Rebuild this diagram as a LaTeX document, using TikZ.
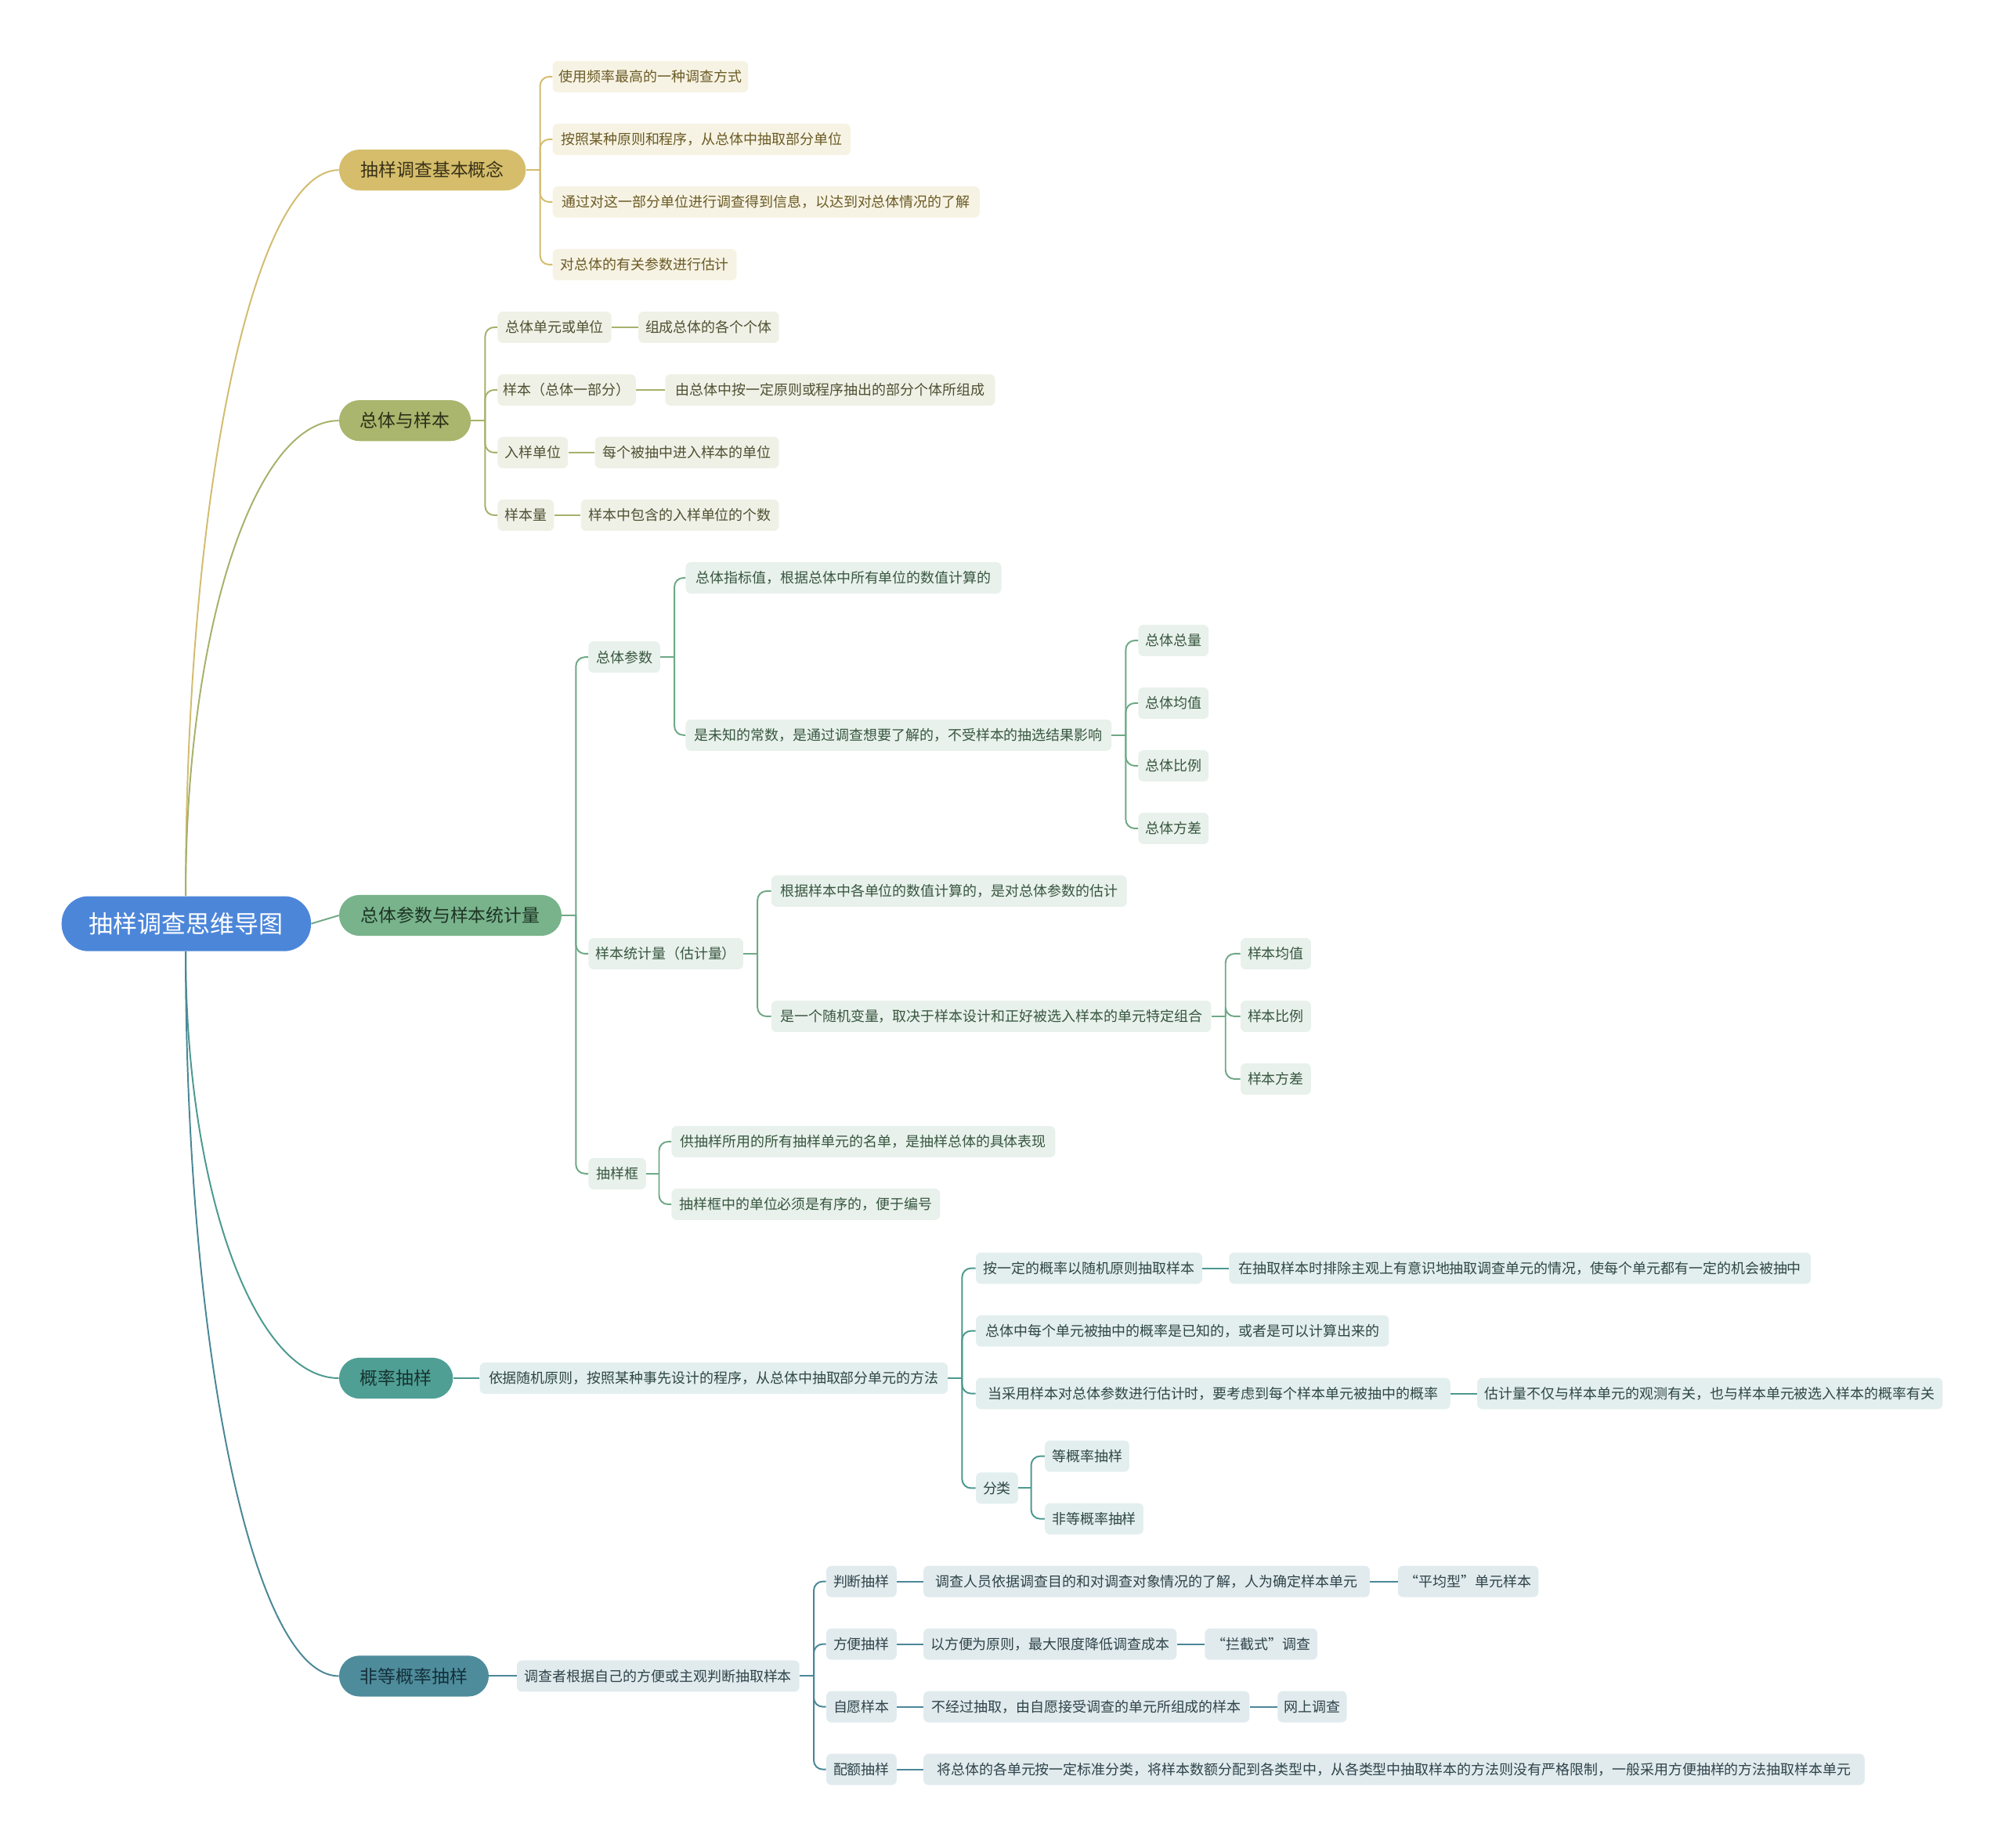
\documentclass[tikz,border=0pt]{standalone}
\usepackage{fontspec}
\newfontfamily\cjk{Noto Sans CJK SC}
\usetikzlibrary{calc}
\definecolor{rootF}{HTML}{4C86D9}
\definecolor{goldL}{HTML}{D3BC6F}\definecolor{goldF}{HTML}{D5BD6B}\definecolor{goldB}{HTML}{F7F3E4}\definecolor{goldT}{HTML}{6A5A24}\definecolor{goldP}{HTML}{3A3218}
\definecolor{oliL}{HTML}{A6B16A}\definecolor{oliF}{HTML}{AAB56D}\definecolor{oliB}{HTML}{F0F1E6}\definecolor{oliT}{HTML}{4E5032}\definecolor{oliP}{HTML}{2B2E17}
\definecolor{grnL}{HTML}{6FA886}\definecolor{grnF}{HTML}{78B38B}\definecolor{grnB}{HTML}{E8F1EB}\definecolor{grnT}{HTML}{37563F}\definecolor{grnP}{HTML}{1D3324}
\definecolor{tealL}{HTML}{4C998F}\definecolor{tealF}{HTML}{4F9F95}\definecolor{tealB}{HTML}{E3EFEE}\definecolor{tealT}{HTML}{2E4744}\definecolor{tealP}{HTML}{17332F}
\definecolor{bluL}{HTML}{4A8796}\definecolor{bluF}{HTML}{4E8C9C}\definecolor{bluB}{HTML}{E1EBEE}\definecolor{bluT}{HTML}{2E4349}\definecolor{bluP}{HTML}{14303A}
\newcommand\mnode[6]{\node[#1, minimum width=#5pt, anchor=west] (#2) at (#3,#4) {#6};}
\begin{document}
\begin{tikzpicture}[x=1pt,y=-1pt,
  rootnode/.style={rounded corners=21pt, fill=rootF, text=white, font=\cjk\fontsize{19}{22}\selectfont, minimum height=43pt, inner sep=0pt},
  topic/.style={rounded corners=16pt, minimum height=32pt, font=\cjk\fontsize{14}{16}\selectfont, inner sep=0pt},
  sub/.style={rounded corners=4pt, minimum height=24.5pt, font=\cjk\fontsize{11}{13}\selectfont, inner xsep=3pt, inner ysep=0pt},
  gP/.style={topic, fill=goldF, text=goldP}, gB/.style={sub, fill=goldB, text=goldT}, gl/.style={draw=goldL, line width=1.2pt},
  oP/.style={topic, fill=oliF, text=oliP}, oB/.style={sub, fill=oliB, text=oliT}, ol/.style={draw=oliL, line width=1.2pt},
  nP/.style={topic, fill=grnF, text=grnP}, nB/.style={sub, fill=grnB, text=grnT}, nl/.style={draw=grnL, line width=1.2pt},
  tP/.style={topic, fill=tealF, text=tealP}, tB/.style={sub, fill=tealB, text=tealT}, tl/.style={draw=tealL, line width=1.2pt},
  bP/.style={topic, fill=bluF, text=bluP}, bB/.style={sub, fill=bluB, text=bluT}, bl/.style={draw=bluL, line width=1.2pt},
  br/.style={rounded corners=7pt}
]
\useasboundingbox (0,0) rectangle (1568,1445);
% root
\mnode{rootnode}{R}{48}{722.5}{195}{抽样调查思维导图}
% level 1
\mnode{gP}{L1}{265}{133}{146}{抽样调查基本概念}
\mnode{oP}{L2}{265}{329}{103}{总体与样本}
\mnode{nP}{L3}{265}{716}{174}{总体参数与样本统计量}
\mnode{tP}{L4}{265}{1078}{89}{概率抽样}
\mnode{bP}{L5}{265}{1311}{117}{非等概率抽样}
% group 1
\mnode{gB}{a1}{432}{60}{153}{使用频率最高的一种调查方式}
\mnode{gB}{a2}{432}{109}{233}{按照某种原则和程序，从总体中抽取部分单位}
\mnode{gB}{a3}{432}{158}{334}{通过对这一部分单位进行调查得到信息，以达到对总体情况的了解}
\mnode{gB}{a4}{432}{207}{144}{对总体的有关参数进行估计}
% group 2
\mnode{oB}{b1}{389}{256}{89}{总体单元或单位}
\mnode{oB}{b1c}{499}{256}{110}{组成总体的各个个体}
\mnode{oB}{b2}{389}{305}{108}{样本（总体一部分）}
\mnode{oB}{b2c}{520}{305}{258}{由总体中按一定原则或程序抽出的部分个体所组成}
\mnode{oB}{b3}{389}{354}{55}{入样单位}
\mnode{oB}{b3c}{465}{354}{144}{每个被抽中进入样本的单位}
\mnode{oB}{b4}{389}{403}{44}{样本量}
\mnode{oB}{b4c}{454}{403}{155}{样本中包含的入样单位的个数}
% group 3
\mnode{nB}{c1}{460}{514}{56}{总体参数}
\mnode{nB}{c1a}{536}{452}{247}{总体指标值，根据总体中所有单位的数值计算的}
\mnode{nB}{c1b}{536}{575}{333}{是未知的常数，是通过调查想要了解的，不受样本的抽选结果影响}
\mnode{nB}{c1b1}{890}{501}{55}{总体总量}
\mnode{nB}{c1b2}{890}{550}{55}{总体均值}
\mnode{nB}{c1b3}{890}{599}{55}{总体比例}
\mnode{nB}{c1b4}{890}{648}{55}{总体方差}
\mnode{nB}{c2}{460}{746}{121}{样本统计量（估计量）}
\mnode{nB}{c2a}{603}{697}{278}{根据样本中各单位的数值计算的，是对总体参数的估计}
\mnode{nB}{c2b}{603}{795}{344}{是一个随机变量，取决于样本设计和正好被选入样本的单元特定组合}
\mnode{nB}{c2b1}{970}{746}{55}{样本均值}
\mnode{nB}{c2b2}{970}{795}{55}{样本比例}
\mnode{nB}{c2b3}{970}{844}{55}{样本方差}
\mnode{nB}{c3}{460}{918}{45}{抽样框}
\mnode{nB}{c3a}{525}{893}{300}{供抽样所用的所有抽样单元的名单，是抽样总体的具体表现}
\mnode{nB}{c3b}{525}{942}{210}{抽样框中的单位必须是有序的，便于编号}
% group 4
\mnode{tB}{d1}{375}{1078}{366}{依据随机原则，按照某种事先设计的程序，从总体中抽取部分单元的方法}
\mnode{tB}{d2}{763}{992}{177}{按一定的概率以随机原则抽取样本}
\mnode{tB}{d2c}{961}{992}{455}{在抽取样本时排除主观上有意识地抽取调查单元的情况，使每个单元都有一定的机会被抽中}
\mnode{tB}{d3}{763}{1041}{323}{总体中每个单元被抽中的概率是已知的，或者是可以计算出来的}
\mnode{tB}{d4}{763}{1090}{371}{当采用样本对总体参数进行估计时，要考虑到每个样本单元被抽中的概率}
\mnode{tB}{d4c}{1155}{1090}{364}{估计量不仅与样本单元的观测有关，也与样本单元被选入样本的概率有关}
\mnode{tB}{d5}{763}{1164}{33}{分类}
\mnode{tB}{d5a}{817}{1139}{66}{等概率抽样}
\mnode{tB}{d5b}{817}{1188}{77}{非等概率抽样}
% group 5
\mnode{bB}{e1}{404}{1311}{221}{调查者根据自己的方便或主观判断抽取样本}
\mnode{bB}{e2}{646}{1237}{55}{判断抽样}
\mnode{bB}{e2a}{722}{1237}{349}{调查人员依据调查目的和对调查对象情况的了解，人为确定样本单元}
\mnode{bB}{e2b}{1093}{1237}{110}{“平均型”单元样本}
\mnode{bB}{e3}{646}{1286}{55}{方便抽样}
\mnode{bB}{e3a}{722}{1286}{198}{以方便为原则，最大限度降低调查成本}
\mnode{bB}{e3b}{942}{1286}{88}{“拦截式”调查}
\mnode{bB}{e4}{646}{1335}{55}{自愿样本}
\mnode{bB}{e4a}{722}{1335}{255}{不经过抽取，由自愿接受调查的单元所组成的样本}
\mnode{bB}{e4b}{999}{1335}{54}{网上调查}
\mnode{bB}{e5}{646}{1384}{55}{配额抽样}
\mnode{bB}{e5a}{722}{1384}{736}{将总体的各单元按一定标准分类，将样本数额分配到各类型中，从各类型中抽取样本的方法则没有严格限制，一般采用方便抽样的方法抽取样本单元}
% root connectors
\coordinate (Rt) at ($(R.north)+(-0.5,0)$);
\coordinate (Rb) at ($(R.south)+(-0.5,0)$);
\draw[gl] (Rt) .. controls ($(Rt)!0.55!(Rt|-L1.west)$) and ($(L1.west)!0.56!(Rt|-L1.west)$) .. (L1.west);
\draw[ol] (Rt) .. controls ($(Rt)!0.55!(Rt|-L2.west)$) and ($(L2.west)!0.56!(Rt|-L2.west)$) .. (L2.west);
\draw[nl] (R.east) -- (L3.west);
\draw[tl] (Rb) .. controls ($(Rb)!0.55!(Rb|-L4.west)$) and ($(L4.west)!0.56!(Rb|-L4.west)$) .. (L4.west);
\draw[bl] (Rb) .. controls ($(Rb)!0.55!(Rb|-L5.west)$) and ($(L5.west)!0.56!(Rb|-L5.west)$) .. (L5.west);
% brackets
\coordinate (L1b) at ($(L1.east)+(11,0)$);
\draw[gl] (L1.east) -- (L1b);
\foreach \c in {a1,a2,a3,a4}{\draw[gl,br] (L1b) |- (\c.west);}
\coordinate (L2b) at ($(L2.east)+(11,0)$);
\draw[ol] (L2.east) -- (L2b);
\foreach \c in {b1,b2,b3,b4}{\draw[ol,br] (L2b) |- (\c.west);}
\foreach \c in {b1,b2,b3,b4}{\draw[ol] (\c.east) -- (\c c.west);}
\coordinate (L3b) at ($(L3.east)+(11,0)$);
\draw[nl] (L3.east) -- (L3b);
\foreach \c in {c1,c2,c3}{\draw[nl,br] (L3b) |- (\c.west);}
\coordinate (c1x) at ($(c1.east)+(11,0)$);
\draw[nl] (c1.east) -- (c1x);
\foreach \c in {c1a,c1b}{\draw[nl,br] (c1x) |- (\c.west);}
\coordinate (c1bx) at ($(c1b.east)+(11,0)$);
\draw[nl] (c1b.east) -- (c1bx);
\foreach \c in {c1b1,c1b2,c1b3,c1b4}{\draw[nl,br] (c1bx) |- (\c.west);}
\coordinate (c2x) at ($(c2.east)+(11,0)$);
\draw[nl] (c2.east) -- (c2x);
\foreach \c in {c2a,c2b}{\draw[nl,br] (c2x) |- (\c.west);}
\coordinate (c2bx) at ($(c2b.east)+(11,0)$);
\draw[nl] (c2b.east) -- (c2bx);
\foreach \c in {c2b1,c2b2,c2b3}{\draw[nl,br] (c2bx) |- (\c.west);}
\coordinate (c3x) at ($(c3.east)+(10,0)$);
\draw[nl] (c3.east) -- (c3x);
\foreach \c in {c3a,c3b}{\draw[nl,br] (c3x) |- (\c.west);}
\draw[tl] (L4.east) -- (d1.west);
\coordinate (d1x) at ($(d1.east)+(11,0)$);
\draw[tl] (d1.east) -- (d1x);
\foreach \c in {d2,d3,d4,d5}{\draw[tl,br] (d1x) |- (\c.west);}
\draw[tl] (d2.east) -- (d2c.west);
\draw[tl] (d4.east) -- (d4c.west);
\coordinate (d5x) at ($(d5.east)+(10,0)$);
\draw[tl] (d5.east) -- (d5x);
\foreach \c in {d5a,d5b}{\draw[tl,br] (d5x) |- (\c.west);}
\draw[bl] (L5.east) -- (e1.west);
\coordinate (e1x) at ($(e1.east)+(11,0)$);
\draw[bl] (e1.east) -- (e1x);
\foreach \c in {e2,e3,e4,e5}{\draw[bl,br] (e1x) |- (\c.west);}
\foreach \c in {e2,e3,e4}{\draw[bl] (\c.east) -- (\c a.west); \draw[bl] (\c a.east) -- (\c b.west);}
\draw[bl] (e5.east) -- (e5a.west);
\end{tikzpicture}
\end{document}
